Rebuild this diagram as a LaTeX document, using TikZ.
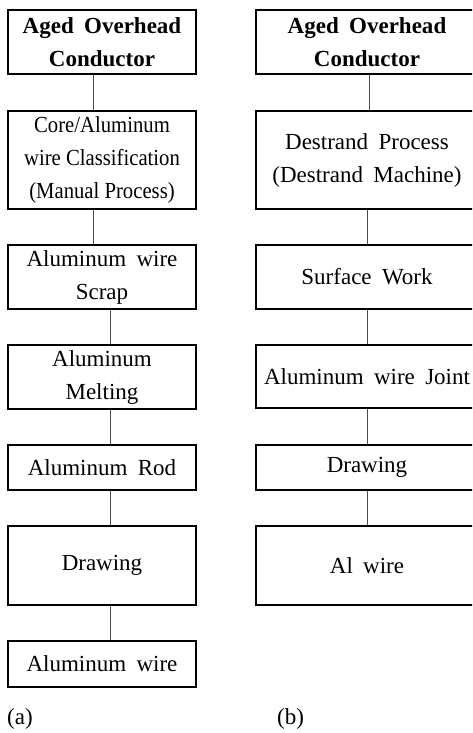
\documentclass[tikz,border=0pt]{standalone}
\usepackage{fontspec}
\setmainfont{Liberation Serif}[WordSpace=1.8]
\newfontfamily\condfont{Liberation Serif}[FakeStretch=0.9]
\begin{document}
\begin{tikzpicture}[x=1pt,y=-1pt,
  box/.style={draw=black,line width=2.2pt,rectangle,inner sep=0pt,align=center,
    font=\fontsize{23}{33}\selectfont},
  lbox/.style={box,minimum width=188pt},
  rbox/.style={box,minimum width=222pt},
  conn/.style={draw=black!70,line width=1pt},
  lab/.style={font=\fontsize{23}{28}\selectfont,inner sep=0pt}]
\useasboundingbox (0,0) rectangle (472,733);
\clip (0,0) rectangle (472,733);
\fill[white] (0,0) rectangle (472,733);
% left column
\node[lbox,minimum height=64pt] (l1) at (102,42) {\textbf{Aged Overhead}\\\textbf{Conductor}};
\node[lbox,minimum height=98pt,font=\condfont\fontsize{23}{33}\selectfont] (l2) at (102,160) {Core/Aluminum\\wire Classification\\(Manual Process)};
\node[lbox,minimum height=64pt] (l3) at (102,277) {Aluminum wire\\Scrap};
\node[lbox,minimum height=64pt] (l4) at (102,377) {Aluminum\\Melting};
\node[lbox,minimum height=45pt] (l5) at (102,467.5) {Aluminum Rod};
\node[lbox,minimum height=79pt] (l6) at (102,565.5) {Drawing};
\node[lbox,minimum height=46pt] (l7) at (102,664) {Aluminum wire};
\draw[conn] ([xshift=-9pt]l1.south) -- ([xshift=-9pt]l2.north);
\draw[conn] ([xshift=-9pt]l2.south) -- ([xshift=-9pt]l3.north);
\draw[conn] ([xshift=8pt]l3.south) -- ([xshift=8pt]l4.north);
\draw[conn] ([xshift=8pt]l4.south) -- ([xshift=8pt]l5.north);
\draw[conn] ([xshift=8pt]l5.south) -- ([xshift=8pt]l6.north);
\draw[conn] ([xshift=8pt]l6.south) -- ([xshift=8pt]l7.north);
% right column
\node[rbox,minimum height=64pt] (r1) at (367,42) {\textbf{Aged Overhead}\\\textbf{Conductor}};
\node[rbox,minimum height=98pt] (r2) at (367,160) {Destrand Process\\(Destrand Machine)};
\node[rbox,minimum height=64pt] (r3) at (367,277) {Surface Work};
\node[rbox,minimum height=63pt] (r4) at (367,376.5) {Aluminum wire Joint};
\node[rbox,minimum height=45pt] (r5) at (367,467.5) {Drawing};
\node[rbox,minimum height=79pt] (r6) at (367,565.5) {Al wire};
\draw[conn] ([xshift=2pt]r1.south) -- ([xshift=2pt]r2.north);
\draw[conn] (r2) -- (r3);
\draw[conn] (r3) -- (r4);
\draw[conn] (r4) -- (r5);
\draw[conn] (r5) -- (r6);
% labels
\node[lab,anchor=west] (la) at (7,719) {(a)};
\node[lab,anchor=west] (lb) at (277,719) {(b)};
\end{tikzpicture}
\end{document}
